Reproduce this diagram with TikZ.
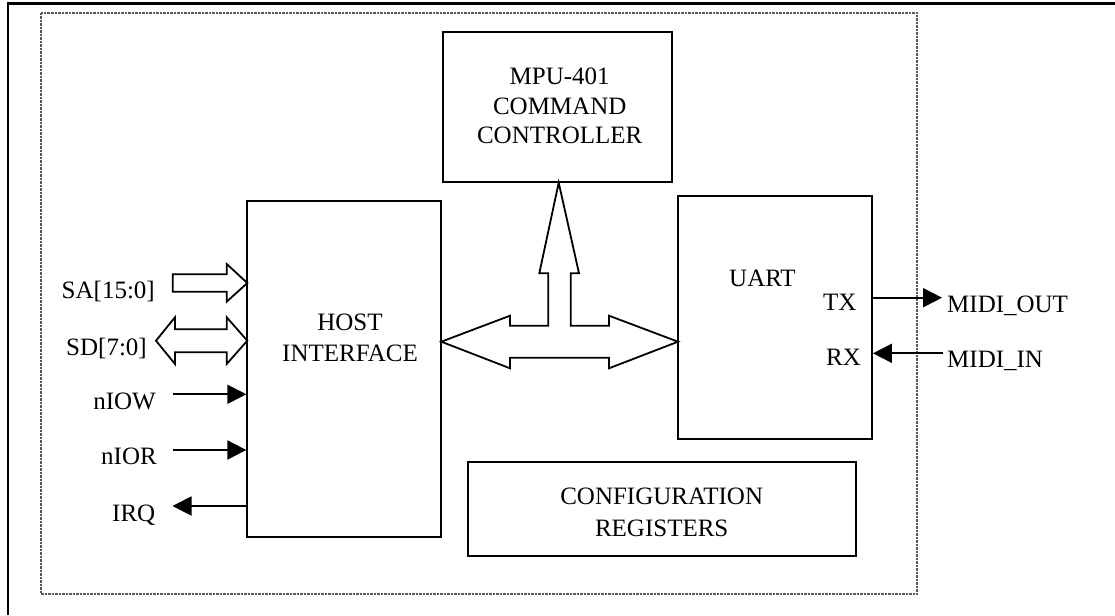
\documentclass[tikz,border=0pt]{standalone}
\usepackage{fontspec}
\setmainfont{Liberation Serif}
\usetikzlibrary{arrows.meta}
\tikzset{
  blk/.style={draw, line width=1.9pt, inner sep=0pt, fill=white},
  lbl/.style={inner sep=0pt, font=\fontsize{25}{30.5}\selectfont, align=center},
  bus/.style={draw, line width=1.8pt, line join=miter, fill=white},
  sig/.style={line width=1.9pt, -{Triangle[length=19pt,width=19pt]}},
  frame/.style={line width=2.6pt},
  inner/.style={draw=black!65, line width=1.1pt, dash pattern=on 2.5pt off 1pt}
}
\begin{document}
\begin{tikzpicture}[x=1pt,y=-1pt]
\useasboundingbox (0,0) rectangle (1115,615);
% outer frame (clipped by page)
\draw[frame] (8,615) -- (8,3.3) -- (1115,3.3);
% dotted enclosure
\draw[inner] (41,13) rectangle (917,594);

% blocks
\node[blk, minimum width=194pt, minimum height=336.3pt] (host) at (344.3,368.85) {};
\node[blk, minimum width=229pt, minimum height=150pt] (mpu) at (557.5,107) {};
\node[blk, minimum width=194pt, minimum height=243pt] (uart) at (775,317.5) {};
\node[blk, minimum width=388pt, minimum height=94pt] (cfg) at (662,509) {};

% block labels
\node[lbl] (hostlbl) at (350,338) {HOST\\INTERFACE};
\node[lbl, font=\fontsize{25}{29.7}\selectfont] (mpulbl) at (559.7,106) {MPU-401\\COMMAND\\CONTROLLER};
\node[lbl, font=\fontsize{25}{31.7}\selectfont] (cfglbl) at (661.7,512.5) {CONFIGURATION\\REGISTERS};
\node[lbl, anchor=base west] (uartlbl) at (729,286.7) {UART};
\node[lbl, anchor=base west] (txlbl) at (823,310) {TX};
\node[lbl, anchor=base west] (rxlbl) at (826,365) {RX};

% internal bus (T-shaped double arrow)
\draw[bus] (441.3,341.7) -- (510,315.7) -- (510,325.7) -- (548.3,325.7) -- (548.3,273.3)
  -- (539.3,273.3) -- (558.7,182.7) -- (579,273.3) -- (570.7,273.3) -- (570.7,325.7)
  -- (609,325.7) -- (609,315.7) -- (678,341.7) -- (609,368.3) -- (609,357.7)
  -- (510,357.7) -- (510,368.3) -- cycle;

% left side labels
\node[lbl, anchor=base east] (sa) at (155,298) {SA[15:0]};
\node[lbl, anchor=base east] (sd) at (147,355) {SD[7:0]};
\node[lbl, anchor=base east] (niow) at (156,409.3) {nIOW};
\node[lbl, anchor=base east] (nior) at (157,464) {nIOR};
\node[lbl, anchor=base east] (irq) at (155.5,521.7) {IRQ};

% SA block arrow (one way)
\draw[bus] (172.7,274.3) -- (226.7,274.3) -- (226.7,264) -- (247.3,283) -- (226.7,301.7)
  -- (226.7,291.7) -- (172.7,291.7) -- cycle;
% SD block arrow (two way)
\draw[bus] (156,340.7) -- (175,317.3) -- (175,329.3) -- (226.7,329.3) -- (226.7,317.3)
  -- (247.3,340.7) -- (226.7,364) -- (226.7,352.3) -- (175,352.3) -- (175,364) -- cycle;

% single-line signals
\coordinate (niowS) at (172.7,394.3);
\coordinate (niorS) at (172.7,450);
\coordinate (irqE) at (172.5,506);
\draw[sig] (niowS) -- (host.west |- niowS);
\draw[sig] (niorS) -- (host.west |- niorS);
\draw[sig] (host.west |- irqE) -- (irqE);

% right side
\node[lbl, anchor=base west] (mout) at (947,312.3) {MIDI\_OUT};
\node[lbl, anchor=base west] (min) at (947,367.7) {MIDI\_IN};
\coordinate (txE) at (942,297.7);
\coordinate (rxS) at (943,353.3);
\draw[sig] (uart.east |- txE) -- (txE);
\draw[sig] (rxS) -- (uart.east |- rxS);
\end{tikzpicture}
\end{document}
